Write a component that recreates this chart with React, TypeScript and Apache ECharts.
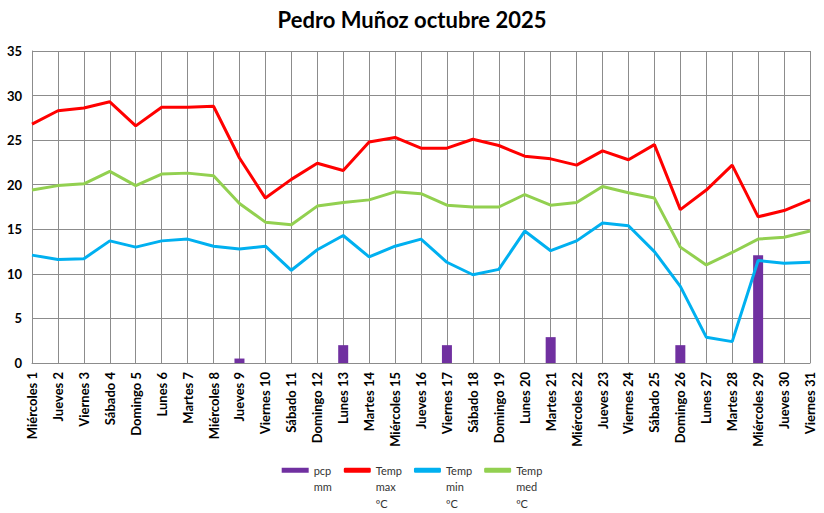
import React, { useEffect, useRef } from "react";
import * as echarts from "echarts";

const days = [
  "Miércoles 1", "Jueves 2", "Viernes 3", "Sábado 4", "Domingo 5", "Lunes 6", "Martes 7",
  "Miércoles 8", "Jueves 9", "Viernes 10", "Sábado 11", "Domingo 12", "Lunes 13", "Martes 14",
  "Miércoles 15", "Jueves 16", "Viernes 17", "Sábado 18", "Domingo 19", "Lunes 20", "Martes 21",
  "Miércoles 22", "Jueves 23", "Viernes 24", "Sábado 25", "Domingo 26", "Lunes 27", "Martes 28",
  "Miércoles 29", "Jueves 30", "Viernes 31",
];

const pcp = [0, 0, 0, 0, 0, 0, 0, 0, 0.5, 0, 0, 0, 2.0, 0, 0, 0, 2.0, 0, 0, 0, 2.9, 0, 0, 0, 0, 2.0, 0, 0, 12.1, 0, 0];
const tmax = [26.8, 28.3, 28.6, 29.3, 26.6, 28.7, 28.7, 28.8, 23.0, 18.5, 20.6, 22.4, 21.6, 24.8, 25.3, 24.1, 24.1, 25.1, 24.4, 23.2, 22.9, 22.2, 23.8, 22.8, 24.5, 17.2, 19.4, 22.2, 16.4, 17.1, 18.3];
const tmin = [12.1, 11.6, 11.7, 13.7, 13.0, 13.7, 13.9, 13.1, 12.8, 13.1, 10.4, 12.7, 14.3, 11.9, 13.1, 13.9, 11.3, 9.9, 10.5, 14.8, 12.6, 13.7, 15.7, 15.4, 12.5, 8.6, 2.9, 2.4, 11.5, 11.2, 11.3];
const tmed = [19.4, 19.9, 20.1, 21.5, 19.9, 21.2, 21.3, 21.0, 17.9, 15.8, 15.5, 17.6, 18.0, 18.3, 19.2, 19.0, 17.7, 17.5, 17.5, 18.9, 17.7, 18.0, 19.8, 19.1, 18.5, 13.0, 11.0, 12.4, 13.9, 14.1, 14.8];

const yTicks = { min: 0, max: 35, interval: 5 };
const seriesNames = ["pcp mm", "Temp max ºC", "Temp min ºC", "Temp med ºC"];

const FONT = "Lato, 'Open Sans', sans-serif";

export default function App() {
  const ref = useRef<HTMLDivElement>(null);
  useEffect(() => {
    if (!ref.current) return;
    const chart = echarts.init(ref.current, null, { renderer: "svg" });
    const lineSeries = (name: string, data: number[], color: string) => ({
      name,
      type: "line",
      data,
      symbol: "none",
      showSymbol: false,
      lineStyle: { color, width: 3 },
      itemStyle: { color },
    });
    chart.setOption({
      animation: false,
      backgroundColor: "#ffffff",
      title: {
        text: "Pedro Muñoz octubre 2025",
        left: "center",
        top: 3,
        textStyle: { fontFamily: FONT, fontWeight: "bold", fontSize: 22, color: "#000" },
      },
      grid: { left: 32, right: 14, top: 51, bottom: 150, containLabel: false },
      legend: {
        left: "center",
        top: 424,
        itemWidth: 27,
        itemHeight: 5,
        itemGap: 12,
        data: [
          { name: seriesNames[0], icon: "rect" },
          { name: seriesNames[1], icon: "roundRect" },
          { name: seriesNames[2], icon: "roundRect" },
          { name: seriesNames[3], icon: "roundRect" },
        ],
        formatter: (n: string) => {
          const parts = n.split(" ");
          const lines = ["", "", ...parts];
          while (lines.length < 5) lines.push(" ");
          return lines.map((l) => (l === "" ? " " : l)).join("\n");
        },
        textStyle: {
          fontFamily: FONT,
          fontSize: 11,
          lineHeight: 16.5,
          color: "#333",
        },
      },
      xAxis: {
        type: "category",
        data: days,
        boundaryGap: false,
        axisLine: { lineStyle: { color: "#8c8c8c", width: 1 } },
        axisTick: { show: false },
        splitLine: { show: true, lineStyle: { color: "#8c8c8c", width: 1 } },
        axisLabel: {
          rotate: 90,
          interval: 0,
          margin: 9,
          fontFamily: FONT,
          fontWeight: "bold",
          fontSize: 13,
          color: "#000",
        },
      },
      yAxis: {
        type: "value",
        min: yTicks.min,
        max: yTicks.max,
        interval: yTicks.interval,
        axisLine: { show: true, lineStyle: { color: "#8c8c8c", width: 1 } },
        axisTick: { show: false },
        splitLine: { show: true, lineStyle: { color: "#8c8c8c", width: 1 } },
        axisLabel: {
          margin: 10,
          fontFamily: FONT,
          fontWeight: "bold",
          fontSize: 13,
          color: "#000",
        },
      },
      series: [
        {
          name: seriesNames[0],
          type: "bar",
          data: pcp,
          barWidth: 10,
          itemStyle: { color: "#7030A0" },
        },
        lineSeries(seriesNames[1], tmax, "#FF0000"),
        lineSeries(seriesNames[2], tmin, "#00B0F0"),
        lineSeries(seriesNames[3], tmed, "#92D050"),
      ],
    });
    return () => chart.dispose();
  }, []);
  return <div ref={ref} style={{ width: 824, height: 513, position: "absolute", left: 0, top: 0 }} />;
}
